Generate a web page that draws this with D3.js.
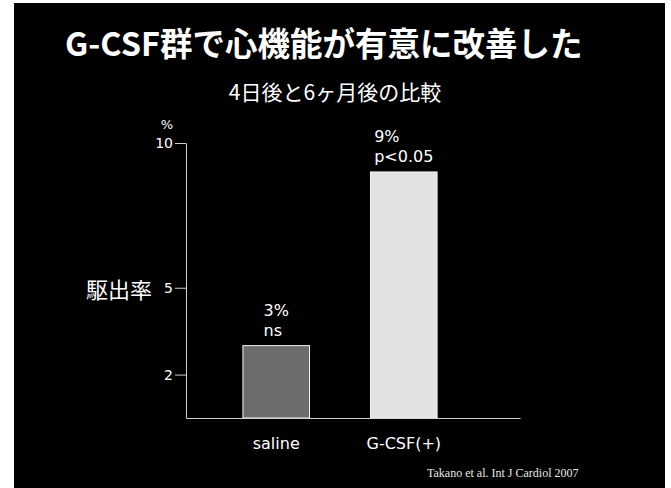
<!DOCTYPE html>
<html>
<head>
<meta charset="utf-8">
<script src="https://cdn.jsdelivr.net/npm/d3@7"></script>
<style>
  html, body { margin: 0; padding: 0; background: #fff; }
  svg { display: block; }
</style>
</head>
<body>
<svg id="chart" width="671" height="488"></svg>
<script>
// Ejection fraction change, 4 days vs 6 months
const categories = ["saline", "G-CSF(+)"];
const values = [3, 9];
const valueLabels = ["3%", "9%"];
const pLabels = ["ns", "p<0.05"];
const tickValues = [2, 5, 10];
const barColors = ["#6c6c6c", "#e2e2e2"];

const titleText = "G-CSF群で心機能が有意に改善した";
const subtitleText = "4日後と6ヶ月後の比較";
const yTitle = "駆出率";
const unitText = "%";
const sourceText = "Takano et al. Int J Cardiol 2007";

const W = 671, H = 488;
const svg = d3.select("#chart");

// slide background
svg.append("rect").attr("x", 14).attr("y", 3).attr("width", 651).attr("height", H - 3).attr("fill", "#000");

const plotLeft = 186, plotRight = 520, plotTop = 143, plotBottom = 418;

const x = d3.scaleBand()
  .domain(categories)
  .range([plotLeft, plotRight])
  .paddingInner(0.478)
  .paddingOuter(0.548)
  .align(0.407);

const y = d3.scaleLinear()
  .domain([0.5, 10])
  .range([plotBottom, plotTop]);

const cjk = "'Noto Sans CJK JP', 'Noto Sans', sans-serif";
const latin = "'DejaVu Sans', 'Noto Sans', sans-serif";

// title and subtitle
svg.append("text")
  .attr("x", 65).attr("y", 56)
  .attr("fill", "#fff")
  .style("font-family", cjk).style("font-weight", 700).style("font-size", "32.5px")
  .text(titleText);

svg.append("text")
  .attr("x", 335).attr("y", 100)
  .attr("text-anchor", "middle")
  .attr("fill", "#fff")
  .style("font-family", cjk).style("font-size", "21px")
  .text(subtitleText);

// bars
svg.append("g").selectAll("rect")
  .data(values)
  .join("rect")
  .attr("x", (d, i) => x(categories[i]))
  .attr("width", x.bandwidth())
  .attr("y", d => y(d))
  .attr("height", d => y.range()[0] - y(d))
  .attr("fill", (d, i) => barColors[i])
  .attr("stroke", "#f4f4f4")
  .attr("stroke-width", 1);

// y axis
const yAxis = svg.append("g")
  .attr("transform", `translate(${plotLeft},0)`)
  .call(d3.axisLeft(y).tickValues(tickValues).tickSize(11).tickSizeOuter(0).tickPadding(2));
yAxis.select(".domain").attr("stroke", "#cfcfcf");
yAxis.selectAll(".tick line").attr("stroke", "#cfcfcf");
yAxis.selectAll(".tick text")
  .attr("fill", "#fff")
  .style("font-family", latin).style("font-size", "14px");

// x axis baseline with category labels
const xAxis = svg.append("g")
  .attr("transform", `translate(0,${plotBottom})`)
  .call(d3.axisBottom(x).tickSize(0).tickSizeOuter(0).tickPadding(20));
xAxis.select(".domain").attr("stroke", "#cfcfcf");
xAxis.selectAll(".tick text")
  .attr("fill", "#fff")
  .style("font-family", latin).style("font-size", "16px");

// unit above the axis
svg.append("text")
  .attr("x", 167).attr("y", 129)
  .attr("text-anchor", "middle")
  .attr("fill", "#fff")
  .style("font-family", latin).style("font-size", "13px")
  .text(unitText);

// axis title
svg.append("text")
  .attr("x", 152).attr("y", y(5) + 4)
  .attr("text-anchor", "end")
  .attr("dominant-baseline", "middle")
  .attr("fill", "#fff")
  .style("font-family", cjk).style("font-size", "22px")
  .text(yTitle);

// value annotations above each bar, lines left-aligned in a block centred on the bar
values.forEach((v, i) => {
  const g = svg.append("g");
  const cx = x(categories[i]) + x.bandwidth() / 2;
  const t1 = g.append("text").attr("y", y(v) - 30).text(valueLabels[i]);
  const t2 = g.append("text").attr("y", y(v) - 10).text(pLabels[i]);
  g.selectAll("text")
    .attr("fill", "#fff")
    .style("font-family", latin).style("font-size", "16px");
  const w = Math.max(t1.node().getComputedTextLength(), t2.node().getComputedTextLength());
  g.selectAll("text").attr("x", cx - w / 2);
});

// source citation
svg.append("text")
  .attr("x", 427).attr("y", 477)
  .attr("fill", "#e8e8e8")
  .style("font-family", "'Liberation Serif', serif").style("font-size", "12px")
  .text(sourceText);
</script>
</body>
</html>
